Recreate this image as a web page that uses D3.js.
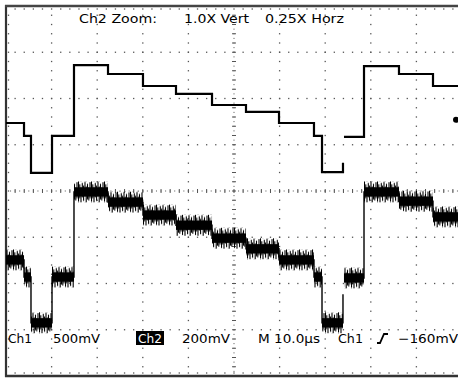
<!DOCTYPE html>
<html>
<head>
<meta charset="utf-8">
<script src="https://cdn.jsdelivr.net/npm/d3@7"></script>
<style>
  html, body { margin: 0; padding: 0; background: #fff; }
  svg { display: block; }
  text { font-family: "DejaVu Sans", sans-serif; font-size: 12.5px; fill: #000; }
</style>
</head>
<body>
<svg id="scope" width="458" height="380"></svg>
<script>
// time of each step (us) and trace level (div); NaN = gap in the trace
var ch2Time  = [0, 3.95, 5.48, 10.09, 14.91, 22.37, 30.04, 37.28, 45.18, 52.63, 59.87, 67.54, 69.30, 73.90, 73.90, 74.12, 78.51, 86.18, 93.64, 100];
var ch2Level = [1.47, 1.19, 0.39, 1.19, 2.72, 2.53, 2.27, 2.10, 1.86, 1.71, 1.47, 1.19, 0.41, 0.61, NaN, 1.17, 2.70, 2.53, 2.27, 2.27];

var ch1Time  = [0, 3.95, 5.48, 10.09, 14.91, 22.37, 30.04, 37.28, 45.18, 52.63, 59.87, 67.54, 69.30, 73.90, 73.90, 74.12, 78.51, 86.18, 93.64, 100];
var ch1Level = [-1.49, -1.86, -2.85, -1.86, -0.02, -0.24, -0.52, -0.74, -1.02, -1.25, -1.49, -1.86, -2.85, -2.23, NaN, -1.88, -0.02, -0.22, -0.56, -0.56];

// noise half-widths on ch1 (div)
var ch1Spike = 0.23;
var ch1Core = 0.1;

var ch2Marker = 1.54;

var topLabels = [["Ch2 Zoom:", 79, 78], ["1.0X Vert", 184, 65], ["0.25X Horz", 265, 79]];
var bottomLabels = [["Ch1", 8, 24], ["500mV", 53, 47], ["200mV", 182, 48], ["M 10.0\u00b5s", 258, 62], ["Ch1", 338, 25], ["\u2212160mV", 398, 60]];

var svg = d3.select("#scope");
var x = d3.scaleLinear().domain([0, 100]).range([6, 462]);
var y = d3.scaleLinear().domain([-4, 4]).range([376, 6]);

// ---- graticule ----
var grid = svg.append("g").attr("fill", "#555");
var minorT = d3.range(0, 100.01, 2);
var minorV = d3.range(-4, 4.001, 0.2).filter(function(v) { return Math.abs(v) < 3.99; });
var majorT = d3.range(10, 101, 10).filter(function(t) { return t != 50; });
var majorV = [-3, -2, -1, 1, 2, 3];

function dot(px, py, s) {
    s = s || 1.3;
    grid.append("rect").attr("x", px - s / 2).attr("y", py - s / 2).attr("width", s).attr("height", s);
}
majorT.forEach(function(t) { minorV.forEach(function(v) { dot(x(t), y(v)); }); });
majorV.forEach(function(v) { minorT.forEach(function(t) { if (t > 0) dot(x(t), y(v)); }); });
minorV.forEach(function(v) { dot(x(0) + 2.5, y(v)); });
minorT.forEach(function(t) { if (t > 0) { dot(x(t), y(4) + 3); dot(x(t), y(-4) - 3); } });

// centre lines: dotted, with short ticks
d3.range(-3.9, 3.9, 0.1).forEach(function(v) { dot(x(50), y(v), 1); });
d3.range(1, 100, 1).forEach(function(t) { dot(x(t), y(0), 1); });
minorV.forEach(function(v) {
    grid.append("rect").attr("x", x(50) - 2).attr("y", y(v) - 0.5).attr("width", 4).attr("height", 1);
});
minorT.forEach(function(t) {
    grid.append("rect").attr("x", x(t) - 0.5).attr("y", y(0) - 2).attr("width", 1).attr("height", 4);
});

// frame
svg.append("line").attr("x1", x(0)).attr("x2", x(0)).attr("y1", y(4) - 1).attr("y2", y(-4) + 1)
    .attr("stroke", "#333").attr("stroke-width", 2.2);
svg.append("line").attr("x1", x(0) - 1).attr("x2", 458).attr("y1", y(4)).attr("y2", y(4))
    .attr("stroke", "#444").attr("stroke-width", 2.5);
svg.append("line").attr("x1", x(0) - 1).attr("x2", 458).attr("y1", y(-4)).attr("y2", y(-4))
    .attr("stroke", "#333").attr("stroke-width", 2.5);

// ---- ch1 noise bands ----
var spikeH = y(-ch1Spike) - y(ch1Spike);
var defs = svg.append("defs");
var pat = defs.append("pattern").attr("id", "spikes").attr("patternUnits", "userSpaceOnUse")
    .attr("width", 13).attr("height", spikeH);
[[0.5, 0, 0.95], [1.8, 0.15, 0.8], [3, 0.3, 1], [4.3, 0.08, 0.75], [5.6, 0.2, 0.92],
 [7, 0.02, 0.7], [8.2, 0.25, 1], [9.5, 0.12, 0.85], [10.8, 0.3, 0.9], [12, 0.05, 0.8]].forEach(function(s) {
    pat.append("line").attr("x1", s[0]).attr("x2", s[0]).attr("y1", s[1] * spikeH).attr("y2", s[2] * spikeH)
        .attr("stroke", "#000").attr("stroke-width", 1.1);
});

var bands = [];
for (var i = 0; i < ch1Time.length - 1; i++) {
    if (!isNaN(ch1Level[i]) && ch1Time[i + 1] > ch1Time[i]) {
        bands.push({ t0: ch1Time[i], t1: ch1Time[i + 1], v: ch1Level[i] });
    }
}

svg.append("g").selectAll("g").data(bands).enter().append("g")
    .attr("transform", function(d) { return "translate(0," + y(d.v + ch1Spike) + ")"; })
    .append("rect")
    .attr("x", function(d) { return x(d.t0); })
    .attr("width", function(d) { return x(d.t1) - x(d.t0); })
    .attr("y", 0).attr("height", spikeH)
    .attr("fill", "url(#spikes)");

svg.append("g").selectAll("rect").data(bands).enter().append("rect")
    .attr("x", function(d) { return x(d.t0); })
    .attr("width", function(d) { return x(d.t1) - x(d.t0); })
    .attr("y", function(d) { return y(d.v + ch1Core); })
    .attr("height", function(d) { return y(d.v - ch1Core) - y(d.v + ch1Core); })
    .attr("fill", "#000");

// ---- traces ----
var line = d3.line()
    .defined(function(d) { return !isNaN(d[1]); })
    .x(function(d) { return x(d[0]); })
    .y(function(d) { return y(d[1]); })
    .curve(d3.curveStepAfter);

svg.append("path").datum(d3.zip(ch1Time, ch1Level)).attr("d", line)
    .attr("fill", "none").attr("stroke", "#000").attr("stroke-width", 1.4);
svg.append("path").datum(d3.zip(ch2Time, ch2Level)).attr("d", line)
    .attr("fill", "none").attr("stroke", "#000").attr("stroke-width", 2.2);

svg.append("circle").attr("cx", 456).attr("cy", y(ch2Marker)).attr("r", 3).attr("fill", "#000");

// ---- readouts ----
topLabels.forEach(function(l) {
    svg.append("text").text(l[0]).attr("x", l[1]).attr("y", 23)
        .attr("textLength", l[2]).attr("lengthAdjust", "spacingAndGlyphs");
});
bottomLabels.forEach(function(l) {
    svg.append("text").text(l[0]).attr("x", l[1]).attr("y", 343)
        .attr("textLength", l[2]).attr("lengthAdjust", "spacingAndGlyphs");
});
svg.append("rect").attr("x", 136).attr("y", 331).attr("width", 28).attr("height", 14).attr("fill", "#000");
svg.append("text").text("Ch2").attr("x", 138).attr("y", 343)
    .style("fill", "#fff").attr("textLength", 24).attr("lengthAdjust", "spacingAndGlyphs");
svg.append("path").attr("d", "M377,343 L380,343 L384,334 L388,334")
    .attr("fill", "none").attr("stroke", "#000").attr("stroke-width", 1.8);
</script>
</body>
</html>
